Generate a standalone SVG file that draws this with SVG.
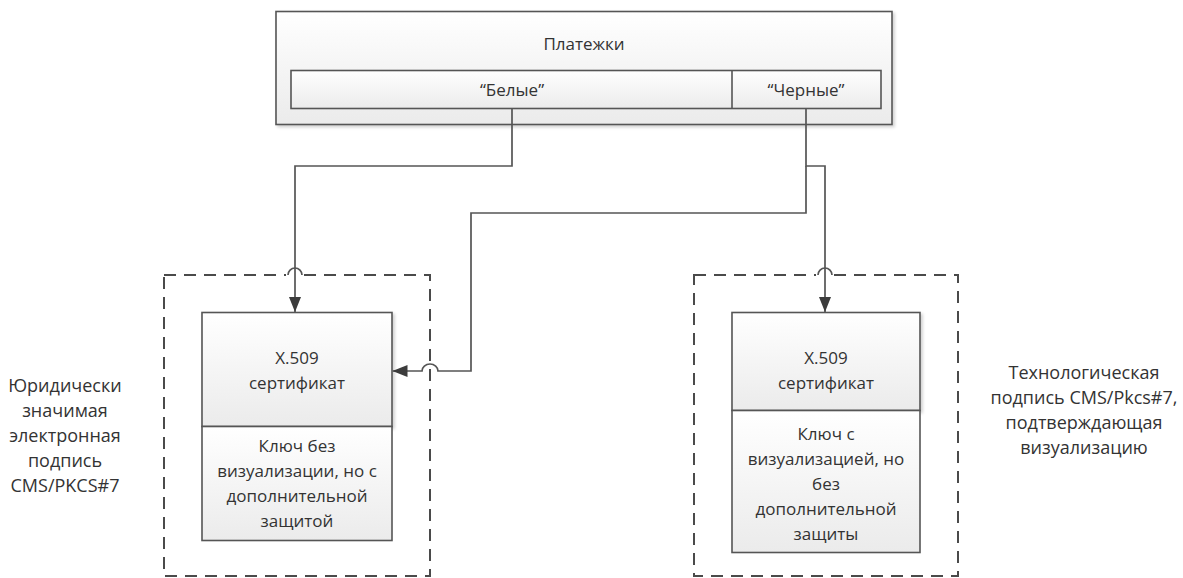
<svg xmlns="http://www.w3.org/2000/svg" width="1183" height="578" viewBox="0 0 1183 578">
<defs>
<linearGradient id="g" x1="0" y1="0" x2="0" y2="1">
<stop offset="0" stop-color="#ffffff"/>
<stop offset="1" stop-color="#ebebeb"/>
</linearGradient>
<filter id="sh" x="-5%" y="-5%" width="115%" height="115%">
<feDropShadow dx="2" dy="2" stdDeviation="1.5" flood-color="#000" flood-opacity="0.18"/>
</filter>
<marker id="ah" viewBox="0 0 15 12" refX="15" refY="6" markerWidth="15" markerHeight="12" markerUnits="userSpaceOnUse" orient="auto">
<path d="M0,0 L15,6 L0,12 Z" fill="#3c3c3c"/>
</marker>
</defs>
<style>
text{font-family:"Open Sans","Noto Sans",sans-serif;font-size:17px;fill:#333;text-anchor:middle;dominant-baseline:central}
.lbl{font-size:18px}
.box{fill:url(#g);stroke:#555;stroke-width:1.6}
.dash{fill:none;stroke:#4a4a4a;stroke-width:2;stroke-dasharray:12 8}
.con{fill:none;stroke:#555;stroke-width:1.7}
.hop{fill:none;stroke:#555;stroke-width:1.7}
</style>
<rect width="1183" height="578" fill="#fff"/>
<g id="platezhki">
<rect class="box" x="276" y="11.5" width="616" height="113" filter="url(#sh)"/>
<text x="584" y="43">Платежки</text>
<rect class="box" x="291" y="70.5" width="590" height="38"/>
<line x1="732" y1="70.5" x2="732" y2="108.5" stroke="#555" stroke-width="1.6"/>
<text x="512" y="89">“Белые”</text>
<text x="806" y="89">“Черные”</text>
</g>
<g id="group-left">
<rect class="dash" x="164" y="275" width="266" height="301"/>
<rect x="286" y="270" width="18" height="10" fill="#fff"/>
<path class="hop" d="M288,275 A7,7 0 0 1 302,275"/>
</g>
<g id="group-right">
<rect class="dash" x="694" y="275" width="264" height="301"/>
<rect x="816" y="270" width="18" height="10" fill="#fff"/>
<path class="hop" d="M818,275 A7,7 0 0 1 832,275"/>
</g>
<g id="cert-left">
<rect class="box" x="202" y="312.5" width="190" height="114" filter="url(#sh)"/>
<rect class="box" x="202" y="426.5" width="190" height="114"/>
<text x="297" y="357">X.509</text>
<text x="297" y="382">сертификат</text>
<text x="297" y="445">Ключ без</text>
<text x="297" y="470">визуализации, но с</text>
<text x="297" y="495">дополнительной</text>
<text x="297" y="520">защитой</text>
</g>
<g id="cert-right">
<rect class="box" x="732" y="312.5" width="188" height="98" filter="url(#sh)"/>
<rect class="box" x="732" y="410.5" width="188" height="142"/>
<text x="826" y="357">X.509</text>
<text x="826" y="382">сертификат</text>
<text x="826" y="433">Ключ с</text>
<text x="826" y="458">визуализацией, но</text>
<text x="826" y="483">без</text>
<text x="826" y="508">дополнительной</text>
<text x="826" y="533">защиты</text>
</g>
<g id="label-left">
<text class="lbl" x="65" y="385">Юридически</text>
<text class="lbl" x="65" y="410">значимая</text>
<text class="lbl" x="65" y="435">электронная</text>
<text class="lbl" x="65" y="460">подпись</text>
<text class="lbl" x="65" y="485">CMS/PKCS#7</text>
</g>
<g id="label-right">
<text class="lbl" x="1084" y="372">Технологическая</text>
<text class="lbl" x="1084" y="397">подпись CMS/Pkcs#7,</text>
<text class="lbl" x="1084" y="422">подтверждающая</text>
<text class="lbl" x="1084" y="447">визуализацию</text>
</g>
<g id="connectors">
<path class="con" d="M512,108.5 V166 H295 V312" marker-end="url(#ah)"/>
<path class="con" d="M806,108.5 V166 H825 V312" marker-end="url(#ah)"/>
<path class="con" d="M806,166 V213 H471 V371 H438 A8,7 0 0 0 422,371 H392.5" marker-end="url(#ah)"/>
</g>
</svg>
